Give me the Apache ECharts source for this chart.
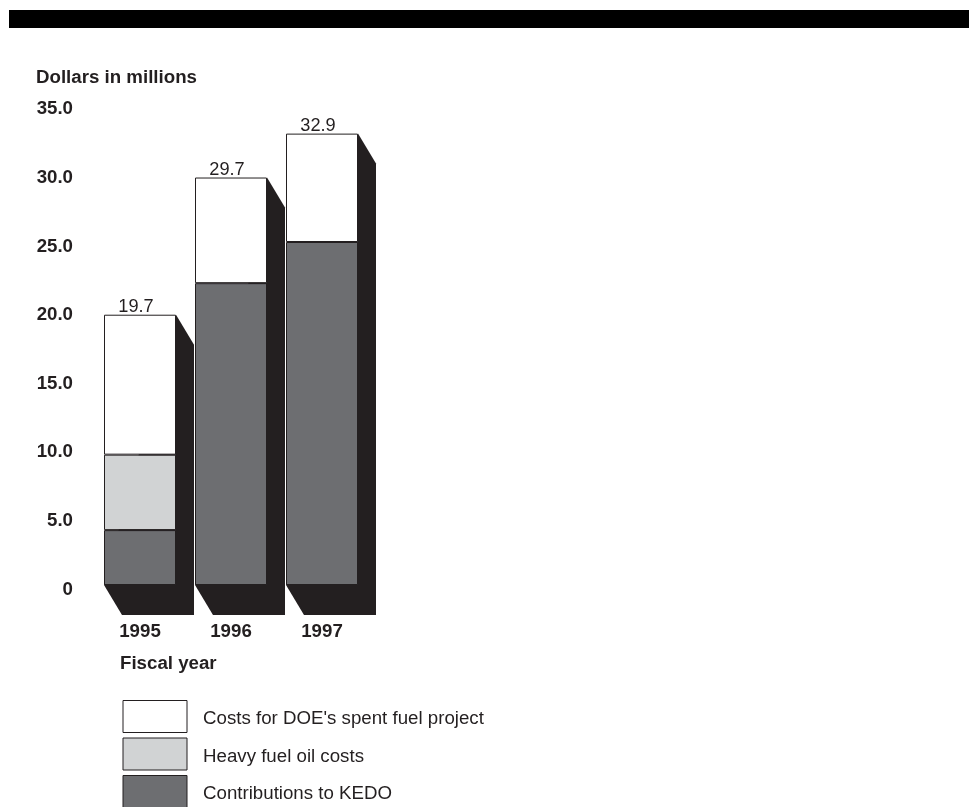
<!DOCTYPE html>
<html>
<head>
<meta charset="utf-8">
<style>html,body{margin:0;padding:0;background:#fff}#c{width:969px;height:807px}</style>
<script src="https://cdn.jsdelivr.net/npm/echarts@6/dist/echarts.min.js"></script>
</head>
<body>
<div id="c"></div>
<script>
const years = ['1995', '1996', '1997'];
const kedo = [4.0, 22.0, 25.0];
const heavyOil = [5.5, null, null];
const spentFuel = [10.2, 7.7, 7.9];
const totals = [19.7, 29.7, 32.9];

const FONT = '"Liberation Sans", Arial, sans-serif';
const FS = 18.7;
const INK = '#231f20';
const BAR_W = 72, DX = 18, DY = 30;

const chart = echarts.init(document.getElementById('c'), null, {renderer: 'canvas'});

const barStyle = c => ({color: c, borderColor: INK, borderWidth: 1});

chart.setOption({
  animation: false,
  backgroundColor: '#fff',
  title: [
    {text: 'Dollars in millions', left: 36, top: 68, padding: 0,
     textStyle: {fontFamily: FONT, fontSize: FS, fontWeight: 'bold', color: INK}},
    {text: 'Fiscal year', left: 120, top: 654, padding: 0,
     textStyle: {fontFamily: FONT, fontSize: FS, fontWeight: 'bold', color: INK}}
  ],
  graphic: [{type: 'rect', shape: {x: 9, y: 10, width: 960, height: 18},
             style: {fill: '#000'}, silent: true}],
  grid: {left: 94.5, width: 273, top: 104.8, height: 480.2},
  xAxis: {
    type: 'category', data: years,
    axisLine: {show: false}, axisTick: {show: false},
    axisLabel: {margin: 37, fontFamily: FONT, fontSize: FS, fontWeight: 'bold', color: INK}
  },
  yAxis: {
    type: 'value', min: 0, max: 35, interval: 5,
    axisLine: {show: false}, axisTick: {show: false}, splitLine: {show: false},
    axisLabel: {
      margin: 21.5, verticalAlign: 'top', lineHeight: 9,
      fontFamily: FONT, fontSize: FS, fontWeight: 'bold', color: INK,
      formatter: v => v === 0 ? '0' : v.toFixed(1)
    }
  },
  legend: {
    orient: 'vertical', left: 122.5, top: 700, padding: 0, height: 200,
    itemWidth: 64, itemHeight: 32, itemGap: 4.5, icon: 'rect',
    selectedMode: false,
    itemStyle: {borderWidth: 1},
    data: ["Costs for DOE's spent fuel project", 'Heavy fuel oil costs', 'Contributions to KEDO'],
    formatter: n => `{s|}{t|${n}}`,
    textStyle: {
      fontFamily: FONT, fontSize: FS, color: INK,
      rich: {
        s: {width: 11, height: 24, lineHeight: 24},
        t: {fontFamily: FONT, fontSize: FS, color: INK, lineHeight: 19, verticalAlign: 'bottom'}
      }
    }
  },
  series: [
    {
      type: 'custom', name: 'shadow', z: 1, silent: true,
      data: years.map((y, i) => [i, totals[i]]),
      encode: {x: 0, y: 1},
      renderItem(params, api) {
        const top = api.coord([api.value(0), api.value(1)]);
        const base = api.coord([api.value(0), 0]);
        const xl = top[0] - BAR_W / 2, xr = top[0] + BAR_W / 2;
        return {
          type: 'polygon',
          shape: {points: [
            [xr, top[1]], [xr + DX, top[1] + DY], [xr + DX, base[1] + DY],
            [xl + DX, base[1] + DY], [xl, base[1]]
          ]},
          style: {fill: INK}
        };
      }
    },
    {type: 'bar', name: 'Contributions to KEDO', stack: 't', z: 2, barWidth: BAR_W, data: kedo,
     itemStyle: barStyle('#6d6e71')},
    {type: 'bar', name: 'Heavy fuel oil costs', stack: 't', z: 2, barWidth: BAR_W, data: heavyOil,
     itemStyle: barStyle('#d1d3d4')},
    {type: 'bar', name: "Costs for DOE's spent fuel project", stack: 't', z: 2, barWidth: BAR_W, data: spentFuel,
     itemStyle: barStyle('#ffffff'),
     label: {show: true, position: 'top', distance: -1, offset: [-4, 0], fontFamily: FONT, fontSize: 18.2, color: INK,
             formatter: p => totals[p.dataIndex].toFixed(1)}}
  ]
});
</script>
</body>
</html>
